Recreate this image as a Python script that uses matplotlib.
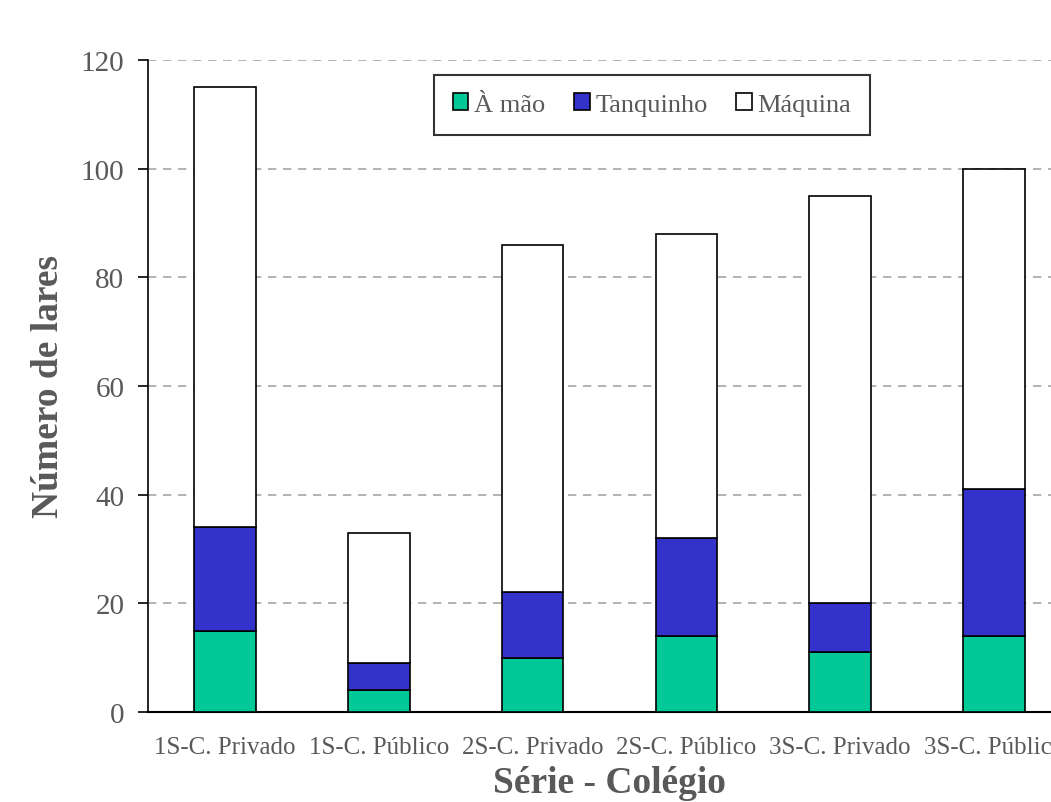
import numpy as np
import matplotlib
matplotlib.use("Agg")
import matplotlib.pyplot as plt

plt.rcParams['font.family'] = ['Liberation Serif', 'DejaVu Serif']

# dados
categorias = ['1S-C. Privado', '1S-C. Público', '2S-C. Privado',
              '2S-C. Público', '3S-C. Privado', '3S-C. Público']
a_mao = [15, 4, 10, 14, 11, 14]
tanquinho = [19, 5, 12, 18, 9, 27]
maquina = [81, 24, 64, 56, 75, 59]

cinza = '#595959'

fig = plt.figure(figsize=(10.51, 8.03), dpi=100)
# o eixo passa da borda direita, como no original (cortado)
ax = fig.add_axes([148 / 1051, 1 - 713 / 803, 923 / 1051, 652 / 803])

x = np.arange(len(categorias))
w = 0.4
ax.bar(x, a_mao, w, color='#00C896', edgecolor='black', linewidth=1.2, label='À mão', zorder=3)
ax.bar(x, tanquinho, w, bottom=a_mao, color='#3333CC', edgecolor='black', linewidth=1.2,
       label='Tanquinho', zorder=3)
base = np.array(a_mao) + np.array(tanquinho)
ax.bar(x, maquina, w, bottom=base, color='white', edgecolor='black', linewidth=1.2,
       label='Máquina', zorder=3)

ax.set_xlim(-0.5, len(categorias) - 0.5)
ax.set_ylim(0, 120)
ax.set_yticks(range(0, 121, 20))
ax.grid(axis='y', linestyle=(0, (5, 4)), color='#A6A6A6', linewidth=1.2, zorder=0)

for s in ['top', 'right']:
    ax.spines[s].set_visible(False)
ax.spines['left'].set_linewidth(1.2)
ax.spines['bottom'].set_linewidth(1.5)

ax.set_xticks(x)
ax.set_xticklabels(categorias)
ax.tick_params(axis='x', length=0, labelsize=18, labelcolor=cinza, pad=17)
ax.tick_params(axis='y', direction='out', length=7, width=1.2, labelsize=21, labelcolor=cinza, pad=10)

ax.set_ylabel('Número de lares', fontsize=27, fontweight='bold', color=cinza)
ax.set_xlabel('Série - Colégio', fontsize=27, fontweight='bold', color=cinza, labelpad=5)
ax.yaxis.set_label_coords(-0.089, 0.5)

leg = ax.legend(loc='upper center', bbox_to_anchor=(0.546, 0.977), ncol=3, fontsize=19,
                frameon=True, fancybox=False, edgecolor='black', handlelength=0.6,
                handleheight=0.6, handletextpad=0.2, columnspacing=1.1, borderpad=0.7,
                borderaxespad=0)
leg.get_frame().set_linewidth(1.5)
for t in leg.get_texts():
    t.set_color(cinza)

fig.savefig('out.png', dpi=100)
